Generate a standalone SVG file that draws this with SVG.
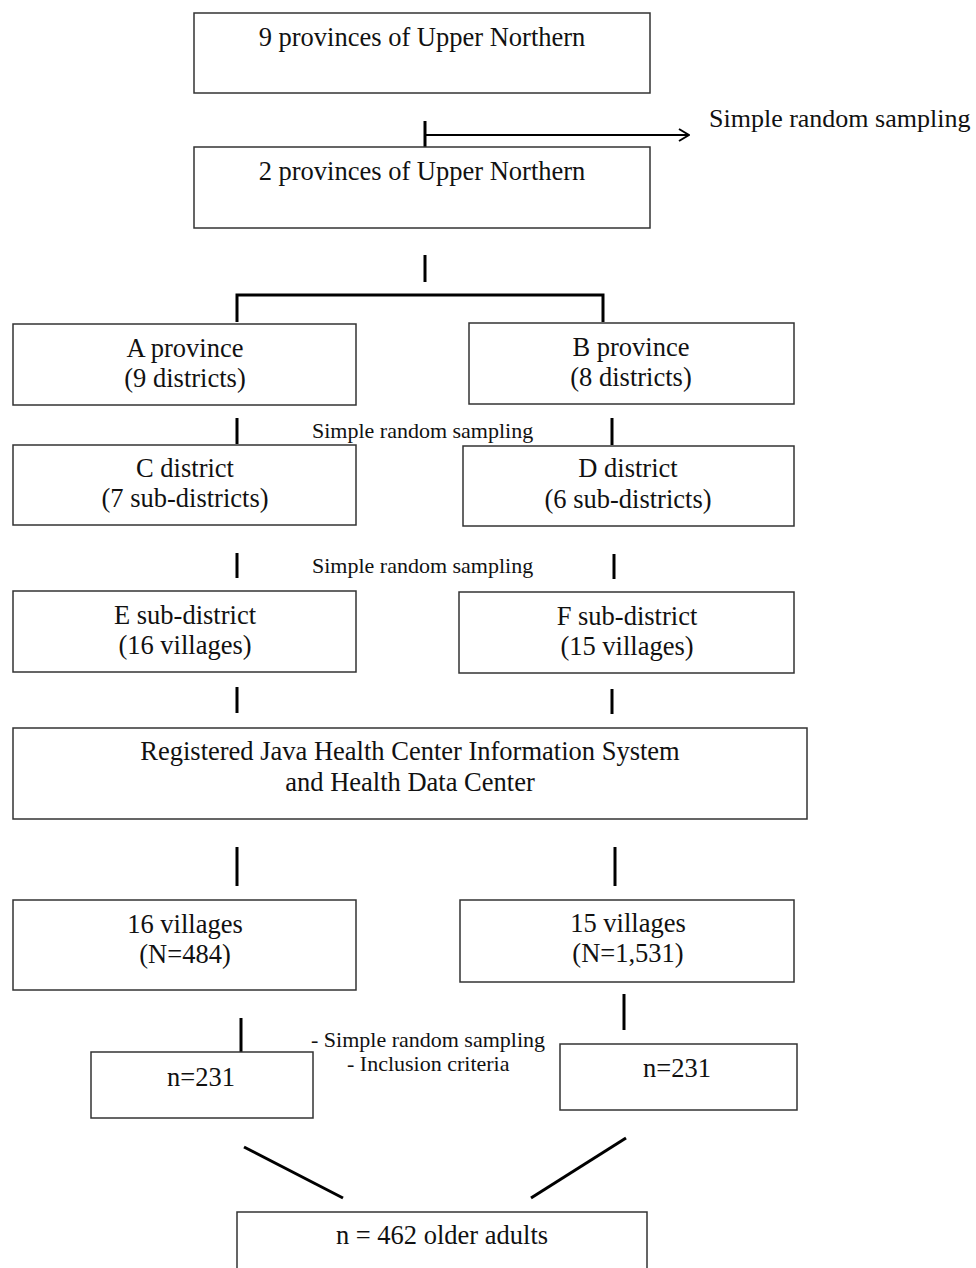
<svg xmlns="http://www.w3.org/2000/svg" width="976" height="1268" viewBox="0 0 976 1268">
<style>
.box{fill:#fff;stroke:#333;stroke-width:1.5}
.t{font-family:"Liberation Serif","Times New Roman",serif;font-size:26.5px;fill:#111;text-anchor:middle}
.s{font-family:"Liberation Serif","Times New Roman",serif;font-size:22px;fill:#111}
.c{stroke:#000;stroke-width:3;fill:none}
.a{stroke:#000;stroke-width:2;fill:none}
</style>
<defs>
<marker id="open" markerWidth="12" markerHeight="14" refX="11" refY="7" orient="auto" markerUnits="userSpaceOnUse">
<path d="M1,1 L11,7 L1,13" fill="none" stroke="#000" stroke-width="2"/>
</marker>
</defs>
<rect width="976" height="1268" fill="#fff"/>
<g id="connectors">
<line class="c" x1="425" y1="121" x2="425" y2="147"/>
<line class="a" x1="425" y1="135" x2="689" y2="135" marker-end="url(#open)"/>
<line class="c" x1="425" y1="255" x2="425" y2="282"/>
<polyline class="c" points="237,322 237,295 603,295 603,322"/>
<line class="c" x1="237" y1="418" x2="237" y2="444"/>
<line class="c" x1="612" y1="418" x2="612" y2="445"/>
<line class="c" x1="237" y1="553" x2="237" y2="578"/>
<line class="c" x1="614" y1="554" x2="614" y2="579"/>
<line class="c" x1="237" y1="687" x2="237" y2="713"/>
<line class="c" x1="612" y1="689" x2="612" y2="714"/>
<line class="c" x1="237" y1="847" x2="237" y2="886"/>
<line class="c" x1="615" y1="847" x2="615" y2="886"/>
<line class="c" x1="241" y1="1018" x2="241" y2="1053"/>
<line class="c" x1="624" y1="994" x2="624" y2="1030"/>
<line class="c" x1="244" y1="1147" x2="343" y2="1198"/>
<line class="c" x1="626" y1="1138" x2="531" y2="1198"/>
</g>
<g id="labels">
<text class="s" x="709" y="127" style="font-size:26px">Simple random sampling</text>
<text class="s" x="312" y="438">Simple random sampling</text>
<text class="s" x="312" y="573">Simple random sampling</text>
<text class="s" x="311" y="1047">- Simple random sampling</text>
<text class="s" x="347" y="1071">- Inclusion criteria</text>
</g>
<g id="n1"><rect class="box" x="194" y="13" width="456" height="80"/><text class="t" x="422" y="46">9 provinces of Upper Northern</text></g>
<g id="n2"><rect class="box" x="194" y="147" width="456" height="81"/><text class="t" x="422" y="180">2 provinces of Upper Northern</text></g>
<g id="nA"><rect class="box" x="13" y="324" width="343" height="81"/><text class="t" x="185" y="357">A province</text><text class="t" x="185" y="387">(9 districts)</text></g>
<g id="nB"><rect class="box" x="469" y="323" width="325" height="81"/><text class="t" x="631" y="356">B province</text><text class="t" x="631" y="386">(8 districts)</text></g>
<g id="nC"><rect class="box" x="13" y="445" width="343" height="80"/><text class="t" x="185" y="477">C district</text><text class="t" x="185" y="507">(7 sub-districts)</text></g>
<g id="nD"><rect class="box" x="463" y="446" width="331" height="80"/><text class="t" x="628" y="477">D district</text><text class="t" x="628" y="508">(6 sub-districts)</text></g>
<g id="nE"><rect class="box" x="13" y="591" width="343" height="81"/><text class="t" x="185" y="624">E sub-district</text><text class="t" x="185" y="654">(16 villages)</text></g>
<g id="nF"><rect class="box" x="459" y="592" width="335" height="81"/><text class="t" x="627" y="625">F sub-district</text><text class="t" x="627" y="655">(15 villages)</text></g>
<g id="nR"><rect class="box" x="13" y="728" width="794" height="91"/><text class="t" x="410" y="760">Registered Java Health Center Information System</text><text class="t" x="410" y="791">and Health Data Center</text></g>
<g id="nV16"><rect class="box" x="13" y="900" width="343" height="90"/><text class="t" x="185" y="933">16 villages</text><text class="t" x="185" y="963">(N=484)</text></g>
<g id="nV15"><rect class="box" x="460" y="900" width="334" height="82"/><text class="t" x="628" y="932">15 villages</text><text class="t" x="628" y="962">(N=1,531)</text></g>
<g id="nL"><rect class="box" x="91" y="1052" width="222" height="66"/><text class="t" x="201" y="1086">n=231</text></g>
<g id="nRt"><rect class="box" x="560" y="1044" width="237" height="66"/><text class="t" x="677" y="1077">n=231</text></g>
<g id="nT"><rect class="box" x="237" y="1212" width="410" height="70"/><text class="t" x="442" y="1244">n = 462 older adults</text></g>
</svg>
